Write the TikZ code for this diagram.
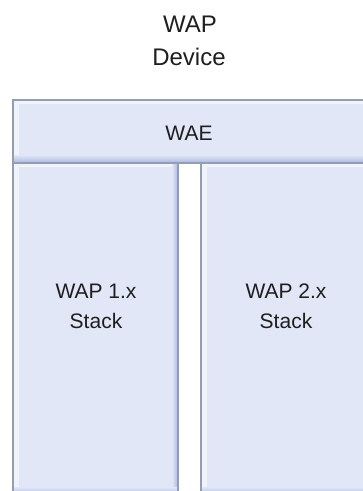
\documentclass[tikz,border=0pt]{standalone}
\usepackage{fontspec}
\setmainfont{Liberation Sans}
\definecolor{boxfill}{RGB}{225,231,246}
\definecolor{boxdark}{RGB}{168,182,228}
\definecolor{boxlight}{RGB}{240,243,251}
\definecolor{edgegray}{RGB}{148,158,176}
\definecolor{inkgray}{RGB}{30,30,30}
\tikzset{
  layerbox/.style={rectangle, anchor=north west, inner sep=0pt, outer sep=0pt,
    fill=boxfill, draw=edgegray, line width=1.6pt,
    path picture={
      \fill[boxlight] (path picture bounding box.north west) rectangle ([xshift=6pt]path picture bounding box.south west);
      \fill[boxlight] (path picture bounding box.north west) rectangle ([yshift=-4pt]path picture bounding box.north east);
      \shade[left color=boxfill, right color=boxdark] ([xshift=-6pt]path picture bounding box.north east) rectangle (path picture bounding box.south east);
      \shade[top color=boxfill, bottom color=boxdark] ([yshift=8pt]path picture bounding box.south west) rectangle (path picture bounding box.south east);
    }},
  titletext/.style={anchor=base, inner sep=0pt, text=inkgray, font=\fontsize{24}{29}\selectfont},
  boxtext/.style={anchor=base, inner sep=0pt, text=inkgray, font=\fontsize{21}{25}\selectfont},
}
\begin{document}
\begin{tikzpicture}[x=1pt,y=-1pt]
\useasboundingbox (0,0) rectangle (363,491);
\clip (0,0) rectangle (363,491);
% title
\node[titletext] (t1) at (190,32) {WAP};
\node[titletext] (t2) at (189,65) {Device};
% stacks
\node[layerbox, minimum width=165pt, minimum height=332pt] (s1) at (13,163) {};
\node[layerbox, minimum width=172pt, minimum height=332pt] (s2) at (201,163) {};
% WAE
\node[layerbox, minimum width=362pt, minimum height=63pt] (wae) at (13,100) {};
% labels
\node[boxtext] (waelbl) at (189,140) {WAE};
\node[boxtext] (s1a) at (96,298) {WAP 1.x};
\node[boxtext] (s1b) at (96,328) {Stack};
\node[boxtext] (s2a) at (286,298) {WAP 2.x};
\node[boxtext] (s2b) at (286,328) {Stack};
\end{tikzpicture}
\end{document}
